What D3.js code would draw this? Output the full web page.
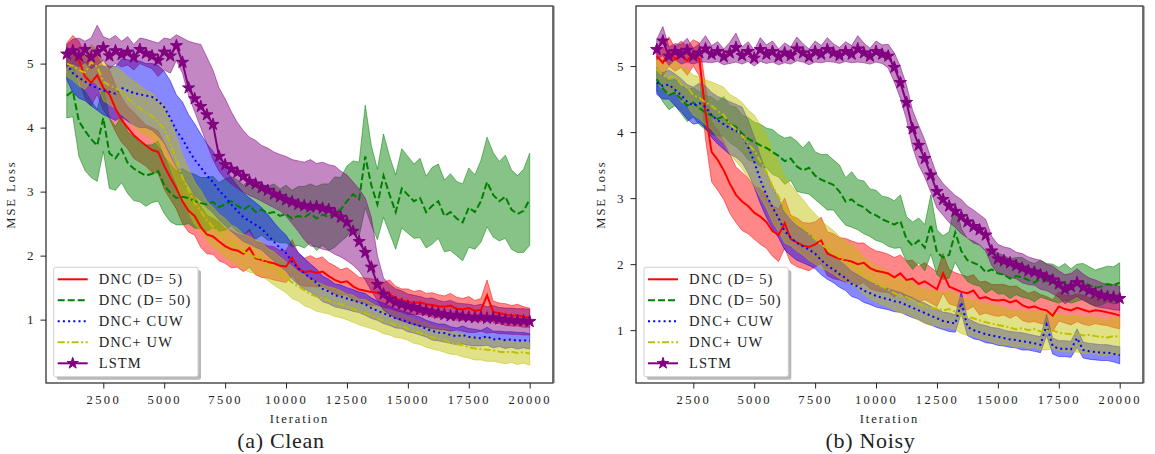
<!DOCTYPE html>
<html><head><meta charset="utf-8">
<script src="https://cdn.jsdelivr.net/npm/d3@7"></script>
<style>
body{margin:0;background:#fff}
svg{display:block}
</style>
</head><body><svg id="c" width="1155" height="454"></svg>
<script>
const iterations = [1000,1250,1500,1750,2000,2250,2500,2750,3000,3250,3500,3750,4000,4250,4500,4750,5000,5250,5500,5750,6000,6250,6500,6750,7000,7250,7500,7750,8000,8250,8500,8750,9000,9250,9500,9750,10000,10250,10500,10750,11000,11250,11500,11750,12000,12250,12500,12750,13000,13250,13500,13750,14000,14250,14500,14750,15000,15250,15500,15750,16000,16250,16500,16750,17000,17250,17500,17750,18000,18250,18500,18750,19000,19250,19500,19750,20000];
const xTicks = [2500,5000,7500,10000,12500,15000,17500,20000];
const yTicks = [1,2,3,4,5];
const seriesNames = ["DNC (D= 5)","DNC (D= 50)","DNC+ CUW","DNC+ UW","LSTM"];
const panelTitles = ["(a) Clean","(b) Noisy"];

// ---- Clean ----
const cleanRedMean = [5.10,5.18,5.05,4.80,4.70,4.82,4.62,4.52,4.30,4.12,4.00,3.88,3.80,3.72,3.65,3.62,3.40,3.22,3.05,2.85,2.70,2.62,2.45,2.33,2.30,2.22,2.15,2.10,2.08,2.03,2.12,1.96,1.93,1.90,1.88,1.84,1.83,1.97,1.80,1.74,1.76,1.73,1.75,1.68,1.62,1.58,1.60,1.52,1.47,1.45,1.43,1.42,1.38,1.40,1.33,1.30,1.28,1.26,1.27,1.24,1.23,1.21,1.20,1.22,1.17,1.16,1.18,1.14,1.15,1.38,1.12,1.10,1.08,1.06,1.07,1.04,1.03];
const cleanRedSpread = [0.22,0.26,0.30,0.34,0.36,0.30,0.34,0.38,0.36,0.35,0.33,0.36,0.34,0.32,0.35,0.33,0.36,0.34,0.32,0.35,0.33,0.30,0.32,0.30,0.28,0.30,0.27,0.29,0.26,0.28,0.30,0.26,0.27,0.25,0.26,0.24,0.25,0.28,0.24,0.22,0.24,0.22,0.23,0.21,0.22,0.20,0.21,0.22,0.19,0.20,0.21,0.19,0.20,0.22,0.19,0.18,0.20,0.18,0.19,0.17,0.19,0.18,0.17,0.19,0.18,0.17,0.18,0.16,0.18,0.24,0.17,0.16,0.17,0.16,0.17,0.16,0.15];
const cleanGreenMean = [4.50,4.57,4.10,3.95,3.82,3.72,4.15,3.60,3.52,3.66,3.45,3.36,3.30,3.25,3.28,3.32,3.10,2.98,2.90,2.92,2.90,2.85,2.82,2.80,2.84,2.76,2.80,2.85,2.78,2.72,2.78,2.68,2.72,2.66,2.68,2.62,2.65,2.58,2.62,2.60,2.66,2.58,2.64,2.60,2.68,2.72,2.85,2.96,2.88,3.55,3.10,2.80,3.25,2.95,2.68,3.05,2.95,2.85,2.90,2.68,2.78,2.85,2.62,2.68,2.58,2.52,2.75,2.68,2.85,3.15,2.95,2.85,2.92,2.72,2.65,2.70,2.88];
const cleanGreenSpread = [0.35,0.40,0.55,0.62,0.60,0.56,0.52,0.55,0.50,0.52,0.48,0.50,0.46,0.48,0.45,0.47,0.44,0.45,0.42,0.44,0.40,0.42,0.40,0.42,0.40,0.38,0.40,0.38,0.40,0.38,0.40,0.42,0.40,0.42,0.44,0.42,0.45,0.44,0.46,0.48,0.46,0.50,0.48,0.52,0.55,0.50,0.55,0.52,0.58,0.80,0.62,0.55,0.65,0.60,0.58,0.62,0.60,0.58,0.62,0.56,0.60,0.58,0.56,0.60,0.58,0.60,0.62,0.58,0.64,0.70,0.66,0.62,0.65,0.62,0.60,0.65,0.72];
const cleanBlueMean = [5.00,4.85,4.78,4.72,4.66,4.62,4.58,4.56,4.53,4.62,4.58,4.54,4.52,4.50,4.48,4.42,4.32,4.15,3.95,3.82,3.65,3.50,3.38,3.25,3.15,3.02,2.92,2.80,2.70,2.60,2.54,2.48,2.42,2.32,2.22,2.12,2.04,1.90,1.80,1.72,1.65,1.58,1.48,1.44,1.38,1.36,1.33,1.30,1.27,1.24,1.18,1.14,1.10,1.06,1.02,1.00,0.96,0.93,0.90,0.86,0.82,0.80,0.79,0.76,0.74,0.76,0.73,0.72,0.71,0.74,0.69,0.70,0.68,0.69,0.67,0.68,0.66];
const cleanBlueSpread = [0.25,0.30,0.32,0.30,0.32,0.35,0.38,0.40,0.42,0.45,0.48,0.50,0.52,0.50,0.52,0.55,0.56,0.58,0.56,0.58,0.55,0.56,0.52,0.50,0.48,0.46,0.45,0.42,0.40,0.38,0.36,0.35,0.33,0.32,0.30,0.29,0.28,0.27,0.25,0.24,0.22,0.21,0.20,0.19,0.18,0.18,0.17,0.17,0.16,0.17,0.16,0.15,0.16,0.15,0.15,0.14,0.15,0.14,0.14,0.13,0.14,0.13,0.14,0.13,0.13,0.14,0.13,0.13,0.12,0.14,0.13,0.12,0.13,0.12,0.13,0.12,0.12];
const cleanYellowMean = [5.00,4.96,4.90,4.86,5.02,4.95,4.72,4.66,4.62,4.55,4.46,4.38,4.30,4.24,4.18,4.08,3.98,3.75,3.50,3.22,3.02,2.82,2.70,2.55,2.45,2.36,2.28,2.20,2.14,2.06,2.02,1.98,1.95,1.86,1.80,1.73,1.66,1.58,1.52,1.46,1.40,1.36,1.33,1.30,1.27,1.24,1.20,1.17,1.12,1.10,1.06,1.02,0.98,0.95,0.92,0.90,0.86,0.82,0.79,0.76,0.72,0.70,0.68,0.64,0.62,0.60,0.57,0.55,0.54,0.53,0.52,0.50,0.49,0.50,0.48,0.49,0.47];
const cleanYellowSpread = [0.20,0.22,0.25,0.26,0.28,0.27,0.30,0.30,0.32,0.34,0.33,0.35,0.36,0.34,0.36,0.35,0.37,0.38,0.36,0.35,0.34,0.33,0.32,0.30,0.31,0.29,0.30,0.28,0.29,0.27,0.28,0.26,0.27,0.25,0.26,0.25,0.24,0.25,0.23,0.24,0.22,0.23,0.22,0.21,0.22,0.21,0.20,0.21,0.20,0.21,0.20,0.19,0.20,0.19,0.20,0.19,0.18,0.19,0.18,0.19,0.18,0.18,0.19,0.18,0.17,0.18,0.17,0.18,0.17,0.18,0.17,0.17,0.18,0.17,0.18,0.17,0.18];
const cleanLstmMean = [5.15,5.20,5.12,5.22,5.10,5.18,5.25,5.12,5.20,5.14,5.18,5.10,5.22,5.16,5.12,5.05,5.18,5.12,5.28,5.02,4.62,4.45,4.33,4.20,4.05,3.55,3.42,3.35,3.30,3.24,3.16,3.12,3.06,3.02,2.96,2.92,2.87,2.84,2.80,2.78,2.76,2.77,2.74,2.72,2.66,2.60,2.52,2.38,2.22,2.05,1.82,1.55,1.40,1.32,1.27,1.24,1.21,1.19,1.16,1.14,1.12,1.10,1.08,1.06,1.07,1.05,1.04,1.03,1.04,1.02,1.03,1.01,1.00,0.99,0.98,0.98,0.97];
const cleanLstmHi = [5.30,5.38,5.40,5.35,5.40,5.60,5.42,5.38,5.44,5.35,5.42,5.30,5.40,5.38,5.35,5.32,5.40,5.38,5.45,5.40,5.35,5.32,5.30,5.10,4.90,4.62,4.45,4.25,4.08,3.95,3.85,3.80,3.72,3.68,3.62,3.58,3.55,3.50,3.48,3.46,3.50,3.44,3.46,3.42,3.40,3.32,3.26,3.15,3.04,2.90,2.60,2.00,1.65,1.55,1.48,1.45,1.40,1.38,1.36,1.33,1.34,1.30,1.28,1.30,1.26,1.25,1.24,1.22,1.24,1.20,1.22,1.19,1.18,1.18,1.17,1.17,1.16];
const cleanLstmLo = [4.95,5.00,4.95,5.02,4.92,4.98,5.05,4.92,5.00,4.95,4.98,4.90,5.00,4.96,4.92,4.80,4.90,4.85,5.05,4.85,4.50,4.25,4.00,3.75,3.50,3.32,3.20,3.12,3.05,2.99,2.94,2.90,2.85,2.80,2.75,2.70,2.62,2.50,2.38,2.25,2.15,2.14,2.10,2.08,2.02,1.98,1.92,1.85,1.76,1.62,1.45,1.30,1.15,1.08,1.02,0.98,0.95,0.92,0.90,0.88,0.86,0.85,0.84,0.82,0.84,0.82,0.80,0.80,0.82,0.79,0.80,0.78,0.78,0.77,0.77,0.76,0.76];

// ---- Noisy ----
const noisyRedMean = [5.15,5.05,5.22,5.10,5.18,5.08,5.20,5.10,4.30,3.70,3.58,3.42,3.22,3.05,2.95,2.88,2.78,2.72,2.64,2.50,2.44,2.62,2.38,2.33,2.28,2.26,2.30,2.36,2.16,2.12,2.08,2.06,2.04,2.00,2.02,1.94,1.90,1.88,1.86,1.80,1.86,1.76,1.78,1.70,1.74,1.68,1.62,1.86,1.66,1.62,1.58,1.56,1.60,1.48,1.50,1.46,1.45,1.46,1.42,1.45,1.38,1.34,1.36,1.32,1.30,1.22,1.36,1.32,1.30,1.34,1.31,1.28,1.30,1.29,1.27,1.25,1.22];
const noisyRedSpread = [0.18,0.20,0.22,0.18,0.20,0.22,0.20,0.25,0.40,0.45,0.46,0.44,0.45,0.42,0.44,0.42,0.40,0.42,0.40,0.38,0.40,0.38,0.36,0.37,0.35,0.36,0.34,0.35,0.33,0.34,0.32,0.33,0.31,0.32,0.30,0.31,0.30,0.30,0.29,0.30,0.28,0.29,0.28,0.27,0.28,0.27,0.26,0.30,0.26,0.25,0.26,0.25,0.24,0.25,0.24,0.23,0.24,0.23,0.24,0.22,0.23,0.22,0.23,0.22,0.21,0.24,0.22,0.21,0.22,0.21,0.22,0.21,0.20,0.21,0.20,0.21,0.20];
const noisyGreenMean = [4.80,4.66,4.56,4.60,4.50,4.40,4.45,4.36,4.30,4.25,4.20,4.24,4.12,4.08,3.98,3.90,3.85,3.80,3.76,3.70,3.64,3.56,3.60,3.48,3.42,3.46,3.34,3.28,3.24,3.20,3.10,2.95,2.98,2.90,2.86,2.78,2.74,2.68,2.64,2.60,2.65,2.38,2.28,2.36,2.25,2.60,2.18,2.10,2.14,2.48,2.20,2.06,2.02,1.98,1.88,1.92,1.86,1.84,1.78,1.82,1.80,1.76,1.72,1.78,1.74,1.72,1.68,1.73,1.67,1.72,1.74,1.68,1.64,1.66,1.70,1.68,1.72];
const noisyGreenSpread = [0.18,0.20,0.22,0.20,0.22,0.24,0.22,0.25,0.26,0.28,0.26,0.30,0.28,0.30,0.28,0.32,0.30,0.32,0.30,0.34,0.32,0.35,0.33,0.38,0.34,0.40,0.36,0.38,0.42,0.38,0.40,0.36,0.42,0.38,0.40,0.36,0.38,0.35,0.37,0.36,0.40,0.34,0.36,0.34,0.35,0.45,0.34,0.33,0.35,0.45,0.34,0.32,0.33,0.31,0.32,0.30,0.31,0.29,0.30,0.28,0.30,0.28,0.29,0.28,0.27,0.28,0.27,0.28,0.26,0.28,0.27,0.28,0.27,0.28,0.27,0.28,0.30];
const noisyBlueMean = [4.75,4.70,4.72,4.64,4.56,4.46,4.40,4.44,4.38,4.26,4.18,4.12,4.06,4.02,3.96,3.78,3.55,3.28,3.05,2.86,2.70,2.50,2.40,2.32,2.27,2.22,2.16,2.06,1.98,1.92,1.85,1.79,1.70,1.66,1.60,1.56,1.52,1.49,1.47,1.44,1.42,1.38,1.34,1.30,1.26,1.22,1.18,1.14,1.12,1.10,1.42,1.05,1.00,0.97,0.94,0.92,0.90,0.88,0.86,0.85,0.83,0.82,0.80,0.78,1.08,0.76,0.72,0.72,0.71,0.88,0.70,0.68,0.67,0.66,0.66,0.64,0.62];
const noisyBlueSpread = [0.18,0.20,0.22,0.24,0.25,0.26,0.28,0.30,0.32,0.34,0.36,0.38,0.40,0.40,0.42,0.40,0.38,0.36,0.34,0.32,0.30,0.28,0.27,0.26,0.25,0.24,0.23,0.22,0.21,0.20,0.20,0.19,0.19,0.18,0.18,0.17,0.17,0.16,0.16,0.16,0.15,0.15,0.15,0.14,0.15,0.14,0.14,0.13,0.14,0.13,0.16,0.13,0.13,0.12,0.13,0.12,0.13,0.12,0.12,0.12,0.13,0.12,0.12,0.12,0.16,0.12,0.12,0.12,0.12,0.14,0.12,0.12,0.12,0.12,0.12,0.12,0.13];
const noisyYellowMean = [4.95,4.86,4.82,4.86,4.72,4.68,4.56,4.52,4.45,4.40,4.32,4.26,4.12,4.04,3.95,3.82,3.72,3.56,3.40,3.18,3.02,2.82,2.74,2.64,2.56,2.46,2.38,2.30,2.24,2.18,2.10,2.04,1.99,1.92,1.82,1.76,1.70,1.66,1.62,1.56,1.52,1.50,1.46,1.40,1.36,1.34,1.33,1.30,1.32,1.28,1.22,1.20,1.18,1.15,1.12,1.10,1.08,1.06,1.04,1.01,1.03,1.00,1.02,0.98,0.99,1.00,0.96,0.95,0.94,0.95,0.92,0.93,0.91,0.90,0.89,0.91,0.90];
const noisyYellowSpread = [0.20,0.22,0.25,0.24,0.26,0.28,0.30,0.32,0.34,0.36,0.40,0.42,0.45,0.48,0.50,0.52,0.54,0.55,0.55,0.54,0.52,0.50,0.46,0.44,0.42,0.40,0.38,0.36,0.34,0.33,0.32,0.30,0.30,0.29,0.28,0.28,0.27,0.27,0.26,0.26,0.26,0.25,0.26,0.25,0.26,0.27,0.26,0.27,0.28,0.27,0.27,0.28,0.27,0.28,0.27,0.28,0.29,0.28,0.27,0.28,0.27,0.28,0.27,0.28,0.29,0.28,0.27,0.28,0.27,0.28,0.27,0.28,0.27,0.28,0.27,0.28,0.28];
const noisyLstmMean = [5.25,5.38,5.15,5.22,5.18,5.24,5.15,5.20,5.26,5.18,5.22,5.14,5.20,5.28,5.16,5.22,5.12,5.25,5.18,5.22,5.14,5.20,5.16,5.26,5.20,5.14,5.22,5.18,5.25,5.20,5.16,5.22,5.18,5.26,5.20,5.15,5.22,5.18,5.15,4.98,4.75,4.45,4.05,3.80,3.60,3.35,3.10,2.98,2.88,2.80,2.72,2.64,2.57,2.52,2.44,2.20,2.08,2.05,2.02,1.98,1.94,1.90,1.88,1.84,1.80,1.76,1.70,1.62,1.66,1.72,1.65,1.60,1.56,1.53,1.51,1.50,1.48];
const noisyLstmSpread = [0.15,0.22,0.14,0.12,0.15,0.18,0.12,0.14,0.20,0.13,0.15,0.12,0.16,0.22,0.13,0.15,0.12,0.18,0.14,0.16,0.12,0.15,0.13,0.18,0.14,0.12,0.16,0.13,0.18,0.14,0.12,0.15,0.13,0.20,0.15,0.12,0.16,0.14,0.18,0.22,0.24,0.26,0.28,0.30,0.28,0.26,0.25,0.24,0.25,0.24,0.26,0.24,0.25,0.23,0.24,0.22,0.22,0.21,0.22,0.20,0.22,0.21,0.20,0.22,0.20,0.21,0.20,0.22,0.20,0.21,0.20,0.19,0.20,0.19,0.18,0.19,0.18];

// ---- styles ----
const colors = ["#ff0000","#008000","#0000ff","#bfbf00","#800080"];
const dashes = [null,"7,3","2,3.2","7,2.5,2,2.5",null];
const FONT = "'Liberation Serif','Times New Roman',Times,serif";

const panels = [
  {title:panelTitles[0], x0:46, x1:553, xr:[103.3,529.7], yd:[0.01,5.9], titleX:281, legendX:53.7,
   series:[
     {mean:cleanRedMean, spread:cleanRedSpread},
     {mean:cleanGreenMean, spread:cleanGreenSpread},
     {mean:cleanBlueMean, spread:cleanBlueSpread},
     {mean:cleanYellowMean, spread:cleanYellowSpread},
     {mean:cleanLstmMean, lo:cleanLstmLo, hi:cleanLstmHi}]},
  {title:panelTitles[1], x0:636, x1:1143, xr:[693.3,1119.7], yd:[0.2,5.91], titleX:870.5, legendX:644,
   series:[
     {mean:noisyRedMean, spread:noisyRedSpread},
     {mean:noisyGreenMean, spread:noisyGreenSpread},
     {mean:noisyBlueMean, spread:noisyBlueSpread},
     {mean:noisyYellowMean, spread:noisyYellowSpread},
     {mean:noisyLstmMean, spread:noisyLstmSpread}]}
];

const svg = d3.select("#c");
const plotTop = 6, plotBottom = 383;
const star = d3.symbol().type(d3.symbolStar).size(46);
const starLegend = d3.symbol().type(d3.symbolStar).size(40);

panels.forEach((p, pi) => {
  const x = d3.scaleLinear().domain([2500,20000]).range(p.xr);
  const y = d3.scaleLinear().domain(p.yd).range([plotBottom, plotTop]);
  const g = svg.append("g");
  const cid = "clip"+pi;
  svg.append("clipPath").attr("id",cid).append("rect")
    .attr("x",p.x0).attr("y",plotTop).attr("width",p.x1-p.x0).attr("height",plotBottom-plotTop);
  const plot = g.append("g").attr("clip-path",`url(#${cid})`);

  p.series.forEach((s, k) => {
    const pts = iterations.map((it,i) => ({
      x: it,
      lo: s.lo ? s.lo[i] : s.mean[i]-s.spread[i],
      hi: s.hi ? s.hi[i] : s.mean[i]+s.spread[i]
    }));
    const area = d3.area().x(d=>x(d.x)).y0(d=>y(d.lo)).y1(d=>y(d.hi));
    plot.append("path").attr("d",area(pts))
      .attr("fill",colors[k]).attr("fill-opacity",0.47)
      .attr("stroke",colors[k]).attr("stroke-opacity",0.5).attr("stroke-width",1);
  });
  p.series.forEach((s, k) => {
    const line = d3.line().x((d,i)=>x(iterations[i])).y(d=>y(d));
    const path = plot.append("path").attr("d",line(s.mean))
      .attr("fill","none").attr("stroke",colors[k]).attr("stroke-width",2);
    if (dashes[k]) path.attr("stroke-dasharray",dashes[k]);
    if (k === 4) {
      plot.selectAll(null).data(s.mean).join("path")
        .attr("d",star)
        .attr("transform",(d,i)=>`translate(${x(iterations[i])},${y(d)})`)
        .attr("fill",colors[k]).attr("stroke",colors[k]).attr("stroke-width",1);
    }
  });

  // axes
  const xa = g.append("g").attr("transform",`translate(0,${plotBottom})`)
    .call(d3.axisBottom(x).tickValues(xTicks).tickSize(5.5).tickPadding(7).tickFormat(d3.format("d")));
  xa.select(".domain").remove();
  xa.selectAll("text").attr("font-size",12.5).style("letter-spacing","2.4px");
  xa.selectAll("line").attr("stroke","#222");
  const ya = g.append("g").attr("transform",`translate(${p.x0},0)`)
    .call(d3.axisLeft(y).tickValues(yTicks).tickSize(5.5).tickPadding(7).tickFormat(d3.format("d")));
  ya.select(".domain").remove();
  ya.selectAll("text").attr("font-size",13);
  ya.selectAll("line").attr("stroke","#222");

  // frame
  g.append("rect").attr("x",p.x0).attr("y",plotTop).attr("width",p.x1-p.x0).attr("height",plotBottom-plotTop)
    .attr("fill","none").attr("stroke","#222").attr("stroke-width",1.2);
  g.append("line").attr("x1",p.x1+0.5).attr("x2",p.x1+0.5).attr("y1",plotTop).attr("y2",plotBottom)
    .attr("stroke","#666").attr("stroke-width",2);

  // labels
  g.append("text").attr("x",(p.x0+p.x1)/2).attr("y",423).attr("text-anchor","middle")
    .attr("font-size",12.5).style("letter-spacing","1.9px").text("Iteration");
  g.append("text").attr("transform",`translate(${p.x0-31},${(plotTop+plotBottom)/2}) rotate(-90)`)
    .attr("text-anchor","middle").attr("font-size",12.5).style("letter-spacing","2px").text("MSE Loss");
  g.append("text").attr("x",p.titleX).attr("y",448).attr("text-anchor","middle")
    .attr("font-size",22).style("letter-spacing","0.7px").text(p.title);

  // legend
  const lx = p.legendX, ly = 267.3, lw = 144.3, lh = 109.4;
  const lg = g.append("g");
  lg.append("rect").attr("x",lx+3).attr("y",ly+3).attr("width",lw).attr("height",lh).attr("rx",2)
    .attr("fill","#9a9a9a").attr("fill-opacity",0.7);
  lg.append("rect").attr("x",lx).attr("y",ly).attr("width",lw).attr("height",lh).attr("rx",2)
    .attr("fill","#fff").attr("stroke","#cfcfcf").attr("stroke-width",1);
  seriesNames.forEach((name,k) => {
    const yy = ly + 12 + 21*k;
    const ln = lg.append("line").attr("x1",lx+4).attr("x2",lx+34).attr("y1",yy).attr("y2",yy)
      .attr("stroke",colors[k]).attr("stroke-width",2);
    if (dashes[k]) ln.attr("stroke-dasharray",dashes[k]);
    if (k === 4) lg.append("path").attr("d",starLegend).attr("transform",`translate(${lx+19},${yy})`)
      .attr("fill",colors[k]).attr("stroke",colors[k]).attr("stroke-width",1);
    lg.append("text").attr("x",lx+45).attr("y",yy).attr("dy","0.35em")
      .attr("font-size",14.5).style("letter-spacing","1.1px").text(name);
  });
});
svg.selectAll("text").attr("font-family",null).style("font-family",FONT).style("fill","#222");
</script>
</body></html>
